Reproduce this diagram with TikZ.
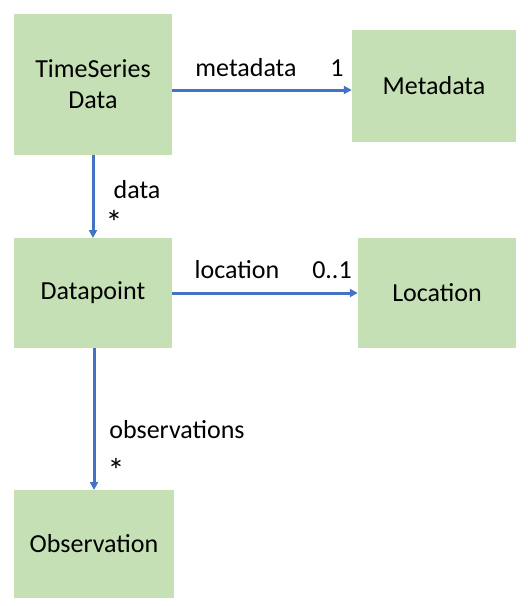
\documentclass[tikz,border=0pt]{standalone}
\usepackage{fontspec}
\setmainfont{Carlito}
\usetikzlibrary{arrows.meta}
\definecolor{boxgreen}{HTML}{C5E0B4}
\definecolor{arrowblue}{HTML}{4472C4}
\tikzset{
  classbox/.style={fill=boxgreen, draw=none, inner sep=0pt, align=center, font=\fontsize{26}{31}\selectfont},
  assoc/.style={draw=arrowblue, line width=3pt, -{Triangle[length=8pt,width=8pt]}},
  lbl/.style={font=\fontsize{26}{31}\selectfont, inner sep=0pt}
}
\begin{document}
\begin{tikzpicture}[x=1pt,y=-1pt]
\useasboundingbox (0,0) rectangle (528,606);
\node[classbox, minimum width=158pt, minimum height=141pt] (ts) at (93,84.5) {TimeSeries\\Data};
\node[classbox, minimum width=164pt, minimum height=112pt] (md) at (434,86) {Metadata};
\node[classbox, minimum width=158pt, minimum height=110pt] (dp) at (93,293) {Datapoint};
\node[classbox, minimum width=158pt, minimum height=110pt] (loc) at (437,293) {Location};
\node[classbox, minimum width=160pt, minimum height=108pt] (obs) at (94,544) {Observation};
\draw[assoc] (ts.east |- 0,90) -- (md.west |- 0,90);
\draw[assoc] (dp.east) -- (loc.west);
\draw[assoc] (93,155) -- (93,238);
\draw[assoc] (94,348) -- (94,490);
\node[lbl] (l1) at (246,68) {metadata};
\node[lbl] (l2) at (337,68) {1};
\node[lbl] (l3) at (137,190) {data};
\node[lbl, font=\fontsize{34}{34}\selectfont] (l4) at (114,222) {*};
\node[lbl] (l5) at (237,270) {location};
\node[lbl] (l6) at (332,270) {0..1};
\node[lbl] (l7) at (177,430) {observations};
\node[lbl, font=\fontsize{34}{34}\selectfont] (l8) at (116,470) {*};
\end{tikzpicture}
\end{document}
